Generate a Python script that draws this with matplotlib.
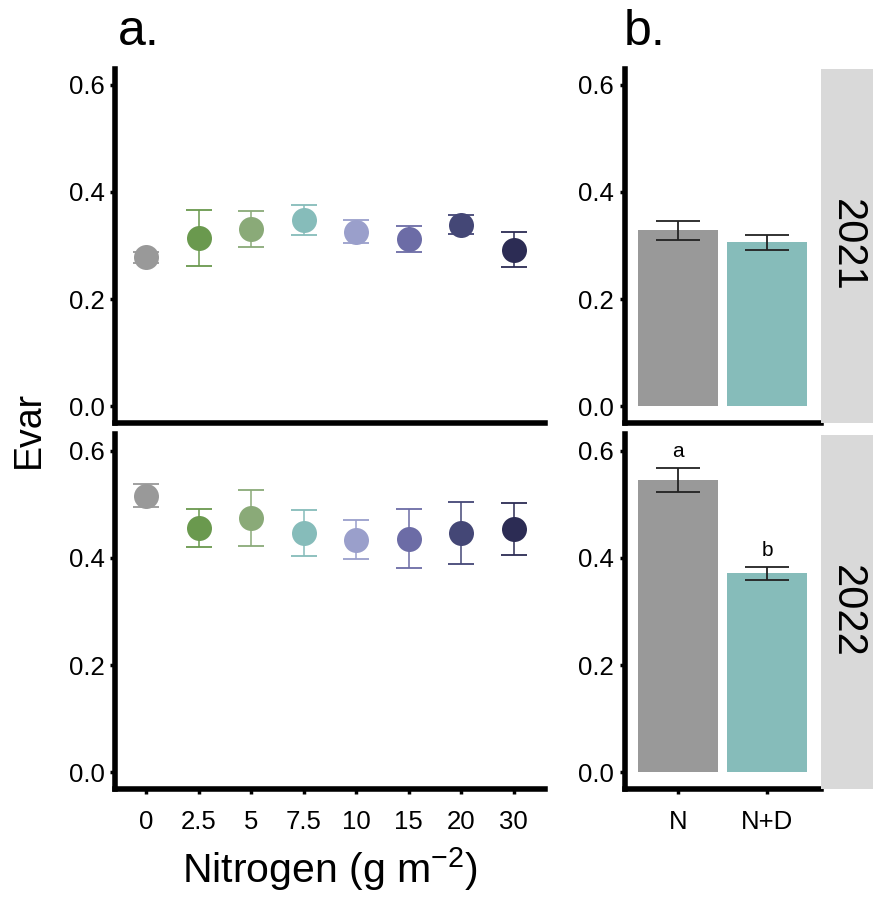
import matplotlib.pyplot as plt

plt.rcParams['font.family'] = ['Liberation Sans', 'DejaVu Sans']
plt.rcParams['mathtext.fontset'] = 'custom'
plt.rcParams['mathtext.rm'] = 'Liberation Sans'
plt.rcParams['mathtext.it'] = 'Liberation Sans:italic'

# Evar by nitrogen level (mean +/- SE)
nitrogen = ['0', '2.5', '5', '7.5', '10', '15', '20', '30']
n_colors = ['#999999', '#6A994E', '#8AAA78', '#86BCBA',
            '#9A9FCB', '#6C6CA6', '#444776', '#2C2C54']
evar_2021 = [0.278, 0.314, 0.331, 0.347, 0.326, 0.312, 0.339, 0.292]
se_2021 = [0.010, 0.053, 0.033, 0.028, 0.022, 0.024, 0.018, 0.033]
evar_2022 = [0.516, 0.456, 0.474, 0.446, 0.434, 0.436, 0.447, 0.454]
se_2022 = [0.022, 0.035, 0.052, 0.043, 0.036, 0.055, 0.058, 0.048]

# Evar by treatment
treatment = ['N', 'N+D']
t_colors = ['#999999', '#86BCBA']
bar_2021 = [0.328, 0.306]
bar_se_2021 = [0.017, 0.014]
bar_2022 = [0.545, 0.371]
bar_se_2022 = [0.023, 0.0125]
letters_2022 = ['a', 'b']

years = ['2021', '2022']

W, H = 873, 898
fig = plt.figure(figsize=(W / 100, H / 100), dpi=100)


def box(x0, y0, x1, y1):
    # pixel box (top-left origin) -> figure fraction rect
    return [x0 / W, 1 - y1 / H, (x1 - x0) / W, (y1 - y0) / H]


def style(ax, show_x):
    for s in ['top', 'right']:
        ax.spines[s].set_visible(False)
    for s in ['left', 'bottom']:
        ax.spines[s].set_linewidth(4)
        ax.spines[s].set_capstyle('projecting')
    ax.set_ylim(-0.03, 0.63)
    ax.set_yticks([0.0, 0.2, 0.4, 0.6])
    ax.set_yticklabels(['0.0', '0.2', '0.4', '0.6'])
    ax.tick_params(axis='y', length=3.5, width=2.5, pad=4, labelsize=18.5)
    ax.tick_params(axis='x', length=3.5, width=2.5, pad=12, labelsize=18.5)
    if not show_x:
        ax.tick_params(axis='x', length=0, labelbottom=False)


rows = [(68.5, 422.5), (434.5, 788.5)]
point_data = [(evar_2021, se_2021), (evar_2022, se_2022)]
bar_data = [(bar_2021, bar_se_2021), (bar_2022, bar_se_2022)]

for r, (y0, y1) in enumerate(rows):
    last = r == len(rows) - 1

    # panel a: points with error bars
    ax = fig.add_axes(box(115, y0, 545, y1))
    vals, errs = point_data[r]
    xs = range(len(nitrogen))
    for i in xs:
        ax.errorbar(i, vals[i], yerr=errs[i], fmt='none',
                    ecolor=n_colors[i], elinewidth=1.1, capsize=9.4,
                    capthick=1.3)
        ax.plot(i, vals[i], 'o', color=n_colors[i], markersize=18,
                markeredgewidth=0, zorder=3)
    ax.set_xlim(-0.6, len(nitrogen) - 0.4)
    ax.set_xticks(list(xs))
    ax.set_xticklabels(nitrogen)
    style(ax, last)

    # panel b: bars with error bars
    bx = fig.add_axes(box(624.5, y0, 820.5, y1))
    bvals, berrs = bar_data[r]
    bpos = range(len(treatment))
    bx.bar(bpos, bvals, width=0.9, color=t_colors, edgecolor='none')
    bx.errorbar(bpos, bvals, yerr=berrs, fmt='none', ecolor='#222222',
                elinewidth=1.3, capsize=15.5, capthick=1.3)
    if r == 1:
        for i, lab in enumerate(letters_2022):
            bx.text(i, bvals[i] + berrs[i] + 0.012, lab, ha='center',
                    va='bottom', fontsize=15)
    bx.set_xlim(-0.6, len(treatment) - 0.4)
    bx.set_xticks(list(bpos))
    bx.set_xticklabels(treatment)
    style(bx, last)

    # facet strip
    sx = fig.add_axes(box(821, y0, 873, y1))
    sx.set_facecolor('#D9D9D9')
    sx.set_xticks([])
    sx.set_yticks([])
    for s in sx.spines.values():
        s.set_visible(False)
    sx.text(0.5, 0.5, years[r], rotation=270, ha='center', va='center',
            fontsize=30, transform=sx.transAxes)

fig.text(118 / W, 1 - 45 / H, 'a.', fontsize=36, ha='left', va='baseline')
fig.text(624 / W, 1 - 45 / H, 'b.', fontsize=36, ha='left', va='baseline')
fig.text(29 / W, 1 - 430 / H, 'Evar', fontsize=27, rotation=90,
         ha='center', va='center')
fig.text(330 / W, 1 - 883 / H, 'Nitrogen (g m$^{-2}$)', fontsize=29.5,
         ha='center', va='baseline')

fig.savefig('out.png', dpi=100)
